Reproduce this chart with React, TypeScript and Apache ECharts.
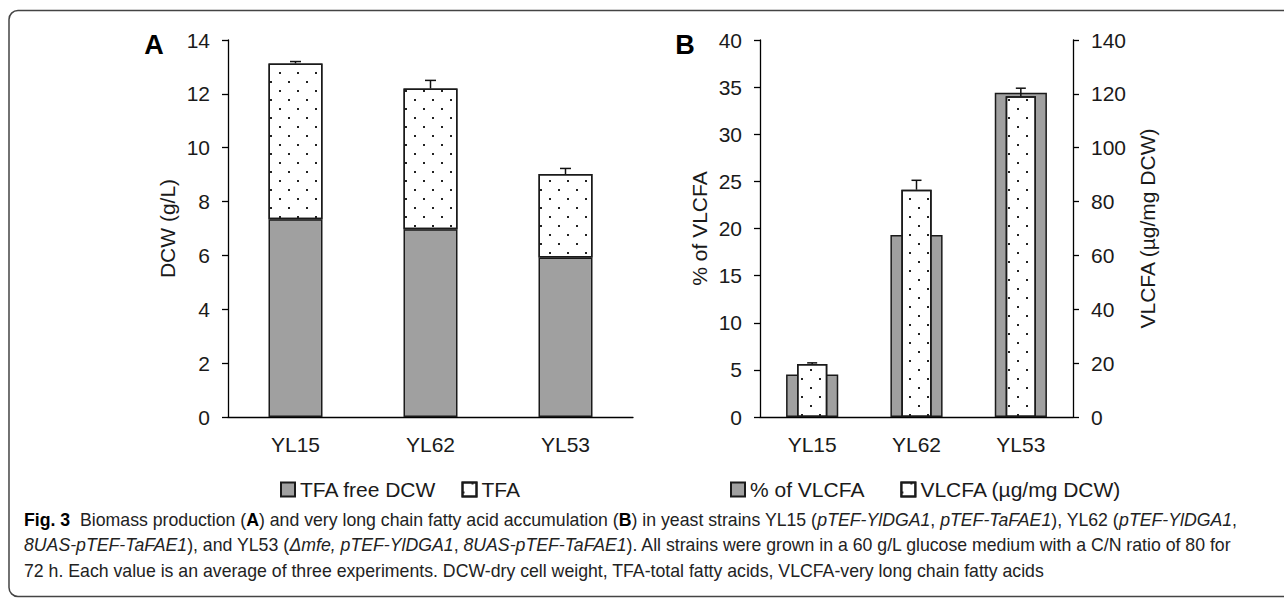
import React, { useEffect, useRef } from "react";
import * as echarts from "echarts";

const categories = ["YL15", "YL62", "YL53"];
// Panel A (g/L)
const tfaFreeDcw = [7.34, 6.97, 5.92];
const tfa = [5.79, 5.23, 3.1];
const dcwErr = [0.07, 0.3, 0.21];
// Panel B
const vlcfaPercent = [4.5, 19.3, 34.4];
const vlcfaContent = [19.7, 84.4, 119.1];
const vlcfaErr = [0.4, 3.5, 3.0];

const dcwAxis = { min: 0, max: 14, interval: 2 };
const pctAxis = { min: 0, max: 40, interval: 5 };
const contentAxis = { min: 0, max: 140, interval: 20 };

const captionLines = [
  "{b|Fig. 3}  Biomass production ({b|A}) and very long chain fatty acid accumulation ({b|B}) in yeast strains YL15 ({i|pTEF-YlDGA1}, {i|pTEF-TaFAE1}), YL62 ({i|pTEF-YlDGA1},",
  "{i|8UAS-pTEF-TaFAE1}), and YL53 ({i|Δmfe, pTEF-YlDGA1}, {i|8UAS-pTEF-TaFAE1}). All strains were grown in a 60 g/L glucose medium with a C/N ratio of 80 for",
  "72 h. Each value is an average of three experiments. DCW-dry cell weight, TFA-total fatty acids, VLCFA-very long chain fatty acids",
];

const FONT = "'Liberation Sans', Arial, sans-serif";
const GRAY = "#a0a0a0";
const EDGE = "#1a1a1a";
const TXT = "#1a1a1a";
const FS = 21;
const CFS = 17.7;

const dots = {
  symbol: "rect",
  symbolSize: 1,
  color: "#222",
  backgroundColor: "#fff",
  dashArrayX: [[2, 16], [0, 9, 2, 7]],
  dashArrayY: [2, 7],
  rotation: 0,
};

function errRender(half: number) {
  return (params: any, api: any) => {
    const x = api.value(0);
    const lo = api.coord([x, api.value(1)]);
    const hi = api.coord([x, api.value(2)]);
    const st = { stroke: "#111", lineWidth: 1.5 };
    return {
      type: "group",
      children: [
        { type: "line", shape: { x1: lo[0], y1: lo[1], x2: hi[0], y2: hi[1] }, style: st },
        { type: "line", shape: { x1: hi[0] - half, y1: hi[1], x2: hi[0] + half, y2: hi[1] }, style: st },
      ],
    };
  };
}

export default function App() {
  const ref = useRef<HTMLDivElement>(null);
  useEffect(() => {
    if (!ref.current) return;
    const chart = echarts.init(ref.current, null, { renderer: "svg" });
    const axisLine = { show: true, lineStyle: { color: "#000", width: 1.3 } };
    const axisTick = { show: true, length: 6, lineStyle: { color: "#000", width: 1.3 } };
    const label = { color: TXT, fontSize: FS, fontFamily: FONT };
    const nameStyle = { color: TXT, fontSize: FS, fontFamily: FONT };

    const dcwTotal = tfaFreeDcw.map((v, i) => v + tfa[i]);

    chart.setOption({
      animation: false,
      backgroundColor: "#fff",
      grid: [
        { left: 228, top: 40, width: 405, height: 377 },
        { left: 760, top: 40, width: 313, height: 377 },
      ],
      xAxis: [
        { type: "category", gridIndex: 0, data: categories, axisLine, axisTick: { show: false }, axisLabel: { ...label, margin: 17 } },
        { type: "category", gridIndex: 1, data: categories, axisLine, axisTick: { show: false }, axisLabel: { ...label, margin: 17 } },
        { type: "category", gridIndex: 1, data: categories, show: false },
      ],
      yAxis: [
        {
          type: "value", gridIndex: 0, ...dcwAxis, axisLine, axisTick, splitLine: { show: false },
          axisLabel: { ...label, margin: 18 }, name: "DCW (g/L)", nameLocation: "middle", nameRotate: 90, nameGap: 50, nameTextStyle: nameStyle,
        },
        {
          type: "value", gridIndex: 1, ...pctAxis, axisLine, axisTick, splitLine: { show: false },
          axisLabel: { ...label, margin: 18 }, name: "% of VLCFA", nameLocation: "middle", nameRotate: 90, nameGap: 50, nameTextStyle: nameStyle,
        },
        {
          type: "value", gridIndex: 1, position: "right", ...contentAxis, axisLine, axisTick, splitLine: { show: false },
          axisLabel: { ...label, margin: 18 }, name: "VLCFA (µg/mg DCW)", nameLocation: "middle", nameRotate: 90, nameGap: 64, nameTextStyle: nameStyle,
        },
      ],
      legend: [
        {
          data: ["TFA free DCW", "TFA"], left: 275, top: 474, itemWidth: 14, itemHeight: 14, itemGap: 25,
          textStyle: { color: TXT, fontSize: FS, fontFamily: FONT }, icon: "rect",
        },
        {
          data: ["% of VLCFA", "VLCFA (µg/mg DCW)"], left: 725, top: 474, itemWidth: 14, itemHeight: 14, itemGap: 36,
          textStyle: { color: TXT, fontSize: FS, fontFamily: FONT }, icon: "rect",
        },
      ],
      series: [
        {
          name: "TFA free DCW", type: "bar", xAxisIndex: 0, yAxisIndex: 0, stack: "a", barWidth: "40%", data: tfaFreeDcw,
          itemStyle: { color: GRAY, borderColor: EDGE, borderWidth: 1.5 },
        },
        {
          name: "TFA", type: "bar", xAxisIndex: 0, yAxisIndex: 0, stack: "a", barWidth: "40%", data: tfa,
          itemStyle: { color: "#fff", borderColor: EDGE, borderWidth: 1.5, decal: dots },
        },
        {
          type: "custom", xAxisIndex: 0, yAxisIndex: 0, z: 5, renderItem: errRender(5.5),
          data: dcwTotal.map((v, i) => [i, v, v + dcwErr[i]]),
        },
        {
          name: "% of VLCFA", type: "bar", xAxisIndex: 1, yAxisIndex: 1, barWidth: "50%", data: vlcfaPercent,
          itemStyle: { color: GRAY, borderColor: EDGE, borderWidth: 1.5 },
        },
        {
          name: "VLCFA (µg/mg DCW)", type: "bar", xAxisIndex: 2, yAxisIndex: 2, barWidth: "29%", data: vlcfaContent, z: 3,
          itemStyle: { color: "#fff", borderColor: EDGE, borderWidth: 1.5, decal: dots },
        },
        {
          type: "custom", xAxisIndex: 2, yAxisIndex: 2, z: 6, renderItem: errRender(5),
          data: vlcfaContent.map((v, i) => [i, v, v + vlcfaErr[i]]),
        },
      ],
      graphic: [
        {
          type: "rect", shape: { x: 9, y: 10.5, width: 1300, height: 586, r: 9 },
          style: { fill: "none", stroke: "#444", lineWidth: 1.5 }, silent: true,
        },
        { type: "text", x: 154, y: 45, style: { text: "A", font: `bold 27px ${FONT}`, fill: "#000", textAlign: "center", textVerticalAlign: "middle" } },
        { type: "text", x: 685, y: 45, style: { text: "B", font: `bold 27px ${FONT}`, fill: "#000", textAlign: "center", textVerticalAlign: "middle" } },
        ...captionLines.map((t, i) => ({
          type: "text", x: 24, y: [520, 545, 571][i],
          style: {
            text: t, fontFamily: FONT, fontSize: CFS, fill: "#222", textVerticalAlign: "middle",
            rich: {
              b: { fontFamily: FONT, fontSize: CFS, fontWeight: "bold", fill: "#000" },
              i: { fontFamily: FONT, fontSize: CFS, fontStyle: "italic", fill: "#222" },
            },
          },
        })),
      ],
    });
    return () => chart.dispose();
  }, []);
  return <div ref={ref} style={{ position: "fixed", left: 0, top: 0, width: 1284, height: 598 }} />;
}
